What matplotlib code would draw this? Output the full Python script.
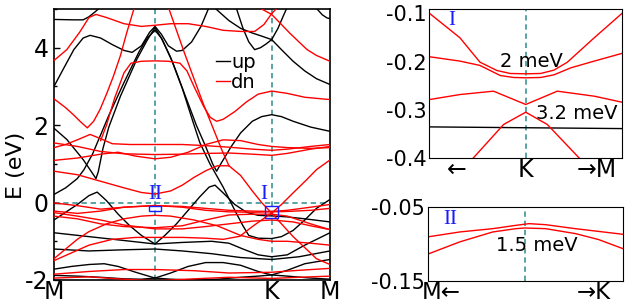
import matplotlib
matplotlib.use("Agg")
import matplotlib.pyplot as plt
from matplotlib.patches import Rectangle

plt.rcParams['font.family'] = ['DejaVu Sans']
plt.rcParams['axes.unicode_minus'] = False

# ---------------- data: high-symmetry points ----------------
k_ticks = [0.0, 1.866, 2.366]
k_labels = ['M', 'K', 'M']
k_gamma = 0.866
k_K = 1.866

# ---------------- spin-up bands (black) ----------------
up1_k = [0, 0.17, 0.25, 0.30, 0.35, 0.40]
up1_E = [4.73, 4.72, 4.72, 4.80, 4.92, 5.05]
up2_k = [0, 0.08, 0.17, 0.25, 0.31, 0.40, 0.50, 0.60, 0.67, 0.75, 0.82, 0.866, 0.92, 0.98, 1.05, 1.10, 1.18, 1.26, 1.33]
up2_E = [3.0, 3.45, 3.95, 4.25, 4.32, 4.25, 4.08, 3.93, 3.88, 4.05, 4.40, 4.55, 4.35, 4.05, 3.91, 3.93, 4.15, 4.55, 5.05]
up3_k = [0, 0.11, 0.25, 0.32, 0.36, 0.38, 0.42, 0.47, 0.57, 0.71, 0.80, 0.866, 0.93, 1.02, 1.12, 1.22, 1.30, 1.36, 1.394, 1.43, 1.52, 1.60, 1.70, 1.78, 1.866, 1.95, 2.05, 2.2, 2.366]
up3_E = [1.92, 1.63, 1.11, 0.80, 0.62, 0.80, 1.40, 1.95, 2.75, 3.70, 4.20, 4.52, 4.20, 3.60, 2.80, 2.00, 1.45, 1.00, 0.81, 1.00, 1.45, 1.80, 2.10, 2.22, 2.27, 2.22, 2.10, 1.95, 1.84]
up4_k = [0, 0.1, 0.2, 0.257, 0.33, 0.40, 0.47, 0.6, 0.73, 0.80, 0.866, 0.92, 1.0, 1.1, 1.19, 1.25, 1.337, 1.45, 1.55, 1.62, 1.67, 1.75, 1.866, 1.95, 2.05, 2.15, 2.25, 2.366]
up4_E = [0.21, 0.38, 0.62, 0.85, 1.25, 1.75, 2.25, 3.1, 3.9, 4.25, 4.45, 4.25, 3.75, 2.95, 2.1, 1.55, 1.0, 0.4, -0.2, -0.6, -0.85, -0.92, -0.93, -0.88, -0.72, -0.45, -0.15, 0.08]
up5_k = [0, 0.1, 0.2, 0.3, 0.37, 0.45, 0.55, 0.65, 0.75, 0.866, 0.95, 1.05, 1.15, 1.25, 1.33, 1.38, 1.45, 1.55, 1.65, 1.75, 1.866, 2.0, 2.15, 2.366]
up5_E = [-0.45, -0.25, -0.05, 0.18, 0.27, 0.05, -0.30, -0.60, -0.85, -1.07, -0.85, -0.55, -0.20, 0.15, 0.40, 0.45, 0.25, -0.05, -0.25, -0.33, -0.345, -0.37, -0.42, -0.50]
up6_k = [0, 0.3, 0.6, 0.866, 1.1, 1.35, 1.5, 1.62, 1.75, 1.866, 2.0, 2.15, 2.366]
up6_E = [-0.78, -0.88, -0.98, -1.07, -1.03, -1.00, -1.05, -1.20, -1.35, -1.40, -1.35, -1.10, -0.78]
up7_k = [0, 0.3, 0.6, 0.866, 1.1, 1.35, 1.6, 1.866, 2.1, 2.366]
up7_E = [-1.20, -1.25, -1.22, -1.20, -1.25, -1.32, -1.42, -1.47, -1.40, -1.25]
up8_k = [0, 0.15, 0.3, 0.43, 0.55, 0.7, 0.866, 1.0, 1.15, 1.3, 1.45, 1.6, 1.75, 1.866, 2.0, 2.15, 2.366]
up8_E = [-1.72, -1.65, -1.60, -1.58, -1.65, -1.80, -1.95, -1.82, -1.65, -1.55, -1.55, -1.62, -1.78, -1.87, -1.75, -1.58, -1.47]
up9_k = [0, 0.2, 0.4, 0.6, 0.75, 0.866, 1.0, 1.2, 1.4, 1.6, 1.75, 1.866, 2.0, 2.2, 2.366]
up9_E = [-1.88, -1.90, -1.93, -1.97, -1.98, -1.95, -1.98, -2.0, -1.98, -1.93, -1.90, -1.87, -1.90, -1.95, -1.98]
up10_k = [1.37, 1.5, 1.6, 1.7, 1.78, 1.866, 1.95, 2.05, 2.15, 2.25, 2.366]
up10_E = [5.05, 4.70, 4.50, 4.38, 4.30, 4.21, 3.95, 3.65, 3.40, 3.20, 3.05]
up11_k = [1.56, 1.62, 1.67, 1.72, 1.77, 1.82, 1.866, 1.92, 1.97, 2.0]
up11_E = [5.05, 4.50, 4.15, 3.95, 4.00, 4.10, 4.21, 4.50, 4.85, 5.05]
up12_k = [2.24, 2.3, 2.34, 2.366]
up12_E = [5.05, 4.85, 4.77, 4.75]

# ---------------- spin-down bands (red) ----------------
dn1_k = [0, 0.11, 0.22, 0.30, 0.36, 0.45, 0.6, 0.75, 0.866, 1.0, 1.15, 1.3, 1.45, 1.6, 1.72, 1.8, 1.866, 1.92]
dn1_E = [3.67, 3.95, 4.40, 4.78, 4.86, 4.78, 4.62, 4.55, 4.58, 4.62, 4.62, 4.55, 4.45, 4.42, 4.42, 4.60, 4.88, 5.05]
dn2_k = [1.75, 1.866, 1.95, 2.02, 2.1, 2.17, 2.25, 2.366]
dn2_E = [5.05, 4.86, 4.60, 4.38, 4.15, 3.95, 3.80, 3.65]
dn3_k = [0.40, 0.45, 0.52, 0.6, 0.66, 0.75, 0.866, 0.98, 1.08, 1.14, 1.2, 1.28, 1.34, 1.394, 1.45, 1.55, 1.65, 1.75, 1.866, 2.0, 2.15, 2.366]
dn3_E = [1.60, 2.00, 2.70, 3.35, 3.60, 3.65, 3.66, 3.65, 3.60, 3.40, 3.00, 2.50, 2.20, 2.10, 2.15, 2.35, 2.60, 2.80, 2.88, 2.82, 2.72, 2.66]
dn4_k = [0, 0.1, 0.2, 0.31, 0.4, 0.5, 0.65, 0.866, 1.1, 1.3, 1.5, 1.7, 1.866, 2.0, 2.2, 2.366]
dn4_E = [1.42, 1.50, 1.62, 1.76, 1.65, 1.52, 1.50, 1.50, 1.50, 1.47, 1.43, 1.38, 1.35, 1.38, 1.45, 1.50]
dn5_k = [0, 0.2, 0.4, 0.6, 0.866, 1.1, 1.3, 1.5, 1.7, 1.866, 2.0, 2.2, 2.366]
dn5_E = [1.54, 1.45, 1.32, 1.26, 1.24, 1.25, 1.27, 1.28, 1.25, 1.22, 1.27, 1.38, 1.45]
dn6_k = [0, 0.2, 0.4, 0.55, 0.7, 0.866, 1.0, 1.15, 1.3, 1.45, 1.6, 1.75, 1.866, 2.0, 2.2, 2.366]
dn6_E = [1.09, 1.15, 1.25, 1.30, 1.20, 1.13, 1.17, 1.30, 1.50, 1.62, 1.60, 1.50, 1.45, 1.42, 1.40, 1.42]
dn7_k = [0, 0.1, 0.166, 0.23, 0.286, 0.34, 0.394, 0.45, 0.509, 0.57, 0.623, 0.66, 0.69]
dn7_E = [2.68, 2.45, 2.27, 2.08, 1.93, 2.10, 2.40, 2.80, 3.26, 3.80, 4.38, 4.75, 5.05]
dn8_k = [0.98, 1.05, 1.12, 1.2, 1.28, 1.36, 1.44, 1.5]
dn8_E = [5.05, 4.45, 3.85, 3.20, 2.55, 1.95, 1.35, 0.95]
dn9_k = [0, 0.2, 0.4, 0.6, 0.75, 0.866, 1.0, 1.1, 1.2, 1.3, 1.4, 1.5, 1.6, 1.7, 1.78, 1.866, 1.95, 2.05, 2.166, 2.25, 2.366]
dn9_E = [0.81, 0.72, 0.55, 0.38, 0.26, 0.22, 0.30, 0.45, 0.65, 0.82, 0.95, 0.95, 0.70, 0.30, 0.0, -0.27, -0.55, -0.88, -1.21, -1.45, -1.60]
dn10_k = [0, 0.15, 0.3, 0.5, 0.7, 0.866, 1.1, 1.3, 1.45, 1.594, 1.7, 1.78, 1.866, 1.95, 2.05, 2.166, 2.25, 2.366]
dn10_E = [-1.50, -1.30, -1.10, -0.95, -0.90, -0.90, -0.90, -0.92, -0.95, -0.87, -0.62, -0.45, -0.27, -0.05, 0.25, 0.59, 0.85, 1.10]
dn11_k = [0, 0.2, 0.4, 0.6, 0.866, 1.1, 1.3, 1.5, 1.7, 1.866, 2.0, 2.2, 2.366]
dn11_E = [-0.01, -0.08, -0.17, -0.12, -0.08, -0.10, -0.15, -0.20, -0.22, -0.23, -0.20, -0.12, -0.05]
dn12_k = [0, 0.2, 0.4, 0.6, 0.866, 1.1, 1.3, 1.5, 1.7, 1.866, 2.0, 2.2, 2.366]
dn12_E = [-0.22, -0.28, -0.22, -0.12, -0.075, -0.12, -0.20, -0.24, -0.25, -0.24, -0.23, -0.20, -0.15]
dn13_k = [0, 0.2, 0.4, 0.6, 0.866, 1.1, 1.3, 1.5, 1.7, 1.866, 2.0, 2.2, 2.366]
dn13_E = [-0.35, -0.42, -0.55, -0.62, -0.65, -0.60, -0.45, -0.32, -0.30, -0.30, -0.35, -0.55, -0.70]
dn14_k = [0, 0.2, 0.4, 0.6, 0.866, 1.1, 1.3, 1.5, 1.7, 1.866, 2.05, 2.2, 2.366]
dn14_E = [-0.26, -0.35, -0.45, -0.58, -0.68, -0.68, -0.62, -0.55, -0.48, -0.45, -0.50, -0.60, -0.70]
dn15_k = [0, 0.1, 0.2, 0.3, 0.45, 0.6, 0.75, 0.866, 1.0, 1.2, 1.4, 1.6, 1.75, 1.866, 2.0, 2.2, 2.366]
dn15_E = [-1.45, -1.20, -0.95, -0.75, -0.55, -0.42, -0.35, -0.33, -0.35, -0.45, -0.60, -0.85, -0.95, -1.00, -1.00, -1.05, -1.10]
dn16_k = [0, 0.3, 0.6, 0.866, 1.2, 1.5, 1.866, 2.1, 2.366]
dn16_E = [-1.85, -1.78, -1.73, -1.73, -1.76, -1.82, -1.80, -1.75, -1.70]
dn17_k = [0, 0.3, 0.6, 0.866, 1.2, 1.5, 1.866, 2.1, 2.366]
dn17_E = [-1.95, -1.92, -1.98, -2.02, -1.97, -1.93, -1.96, -1.93, -1.90]

up_bands = [(up1_k, up1_E), (up2_k, up2_E), (up3_k, up3_E), (up4_k, up4_E), (up5_k, up5_E),
            (up6_k, up6_E), (up7_k, up7_E), (up8_k, up8_E), (up9_k, up9_E), (up10_k, up10_E),
            (up11_k, up11_E), (up12_k, up12_E)]
dn_bands = [(dn1_k, dn1_E), (dn2_k, dn2_E), (dn3_k, dn3_E), (dn4_k, dn4_E), (dn5_k, dn5_E),
            (dn6_k, dn6_E), (dn7_k, dn7_E), (dn8_k, dn8_E), (dn9_k, dn9_E), (dn10_k, dn10_E),
            (dn11_k, dn11_E), (dn12_k, dn12_E), (dn13_k, dn13_E), (dn14_k, dn14_E), (dn15_k, dn15_E),
            (dn16_k, dn16_E), (dn17_k, dn17_E)]

# ---------------- zoom I (around K) ----------------
zI_a_u = [-1.0, -0.684, -0.476, -0.30, -0.161, 0.0, 0.154, 0.293, 0.433, 0.712, 1.0]
zI_a_E = [-0.100, -0.1506, -0.2012, -0.2185, -0.2247, -0.2254, -0.2247, -0.2178, -0.2012, -0.1506, -0.100]
zI_b_u = [-1.0, -0.684, -0.476, -0.265, -0.126, 0.0, 0.154, 0.293, 0.468, 0.712, 1.0]
zI_b_E = [-0.190, -0.199, -0.208, -0.2289, -0.233, -0.2337, -0.233, -0.2275, -0.213, -0.199, -0.183]
zI_c_u = [-1.0, -0.684, -0.335, 0.0, 0.328, 0.712, 1.0]
zI_c_E = [-0.2788, -0.2684, -0.2614, -0.289, -0.2614, -0.2718, -0.2843]
zI_d_u = [-0.545, -0.23, 0.0, 0.224, 0.555]
zI_d_E = [-0.400, -0.3305, -0.305, -0.3305, -0.400]
zI_e_u = [-1.0, 1.0]
zI_e_E = [-0.3355, -0.339]

# ---------------- zoom II (around Gamma) ----------------
zII_a_u = [-1.0, -0.671, -0.332, -0.095, 0.04, 0.21, 0.515, 1.0]
zII_a_E = [-0.0905, -0.0838, -0.0793, -0.0748, -0.0725, -0.0739, -0.0793, -0.0869]
zII_b_u = [-1.0, -0.671, -0.332, -0.095, 0.0, 0.21, 0.515, 0.753, 1.0]
zII_b_E = [-0.114, -0.0973, -0.0838, -0.0793, -0.0784, -0.0793, -0.086, -0.0941, -0.1063]

dash_col = '#2e8b8b'
dash_ls = (0, (3.5, 2.5))
blue = '#1a1aff'

fig = plt.figure(figsize=(6.27, 3.05), dpi=100)

# ---------------- main panel ----------------
ax = fig.add_axes([0.0861, 0.082, 0.4402, 0.8885])
ax.axvline(k_gamma, color=dash_col, ls=dash_ls, lw=1.1, zorder=1)
ax.axvline(k_K, color=dash_col, ls=dash_ls, lw=1.1, zorder=1)
ax.axhline(0, color=dash_col, ls=dash_ls, lw=1.1, zorder=1)
for i, (k, E) in enumerate(up_bands):
    ax.plot(k, E, color='black', lw=1.0, zorder=2, label='up' if i == 0 else None)
for i, (k, E) in enumerate(dn_bands):
    ax.plot(k, E, color='red', lw=1.0, zorder=3, label='dn' if i == 0 else None)

ax.add_patch(Rectangle((0.814, -0.21), 0.106, 0.13, fill=False, ec=blue, lw=1.0, zorder=5))
ax.add_patch(Rectangle((1.813, -0.40), 0.106, 0.30, fill=False, ec=blue, lw=1.0, zorder=5))
ax.text(0.866, 0.2, 'II', color=blue, family='Liberation Serif', fontsize=15, ha='center', va='center', zorder=6)
ax.text(1.795, 0.2, 'I', color=blue, family='Liberation Serif', fontsize=15, ha='center', va='center', zorder=6)

ax.set_xlim(0, 2.366)
ax.set_ylim(-2, 5)
ax.set_xticks(k_ticks)
ax.set_xticklabels(k_labels)
ax.set_yticks([-2, 0, 2, 4])
ax.set_yticks([-1, 1, 3, 5], minor=True)
ax.tick_params(axis='y', which='major', direction='in', length=4, width=1, labelsize=17, pad=4)
ax.tick_params(axis='y', which='minor', direction='in', length=2.5, width=1)
ax.tick_params(axis='x', direction='in', length=0, labelsize=17, pad=0)
ax.set_ylabel('E (eV)', fontsize=16)
ax.yaxis.set_label_coords(-0.1, 0.424)
for s in ax.spines.values():
    s.set_linewidth(1.2)
leg = ax.legend(loc='upper left', bbox_to_anchor=(0.55, 0.875), frameon=False, fontsize=14,
                handlelength=0.75, handletextpad=0.05, labelspacing=0.05, borderpad=0)

# ---------------- inset I ----------------
a1 = fig.add_axes([0.685, 0.482, 0.307, 0.490])
a1.axvline(0, color=dash_col, ls=dash_ls, lw=1.1)
a1.plot(zI_e_u, zI_e_E, color='black', lw=1.0)
for u, E in [(zI_a_u, zI_a_E), (zI_b_u, zI_b_E), (zI_c_u, zI_c_E), (zI_d_u, zI_d_E)]:
    a1.plot(u, E, color='red', lw=1.0)
a1.set_xlim(-1, 1)
a1.set_ylim(-0.4, -0.09)
a1.set_xticks([])
a1.set_yticks([-0.1, -0.2, -0.3, -0.4])
a1.set_yticklabels(['-0.1', '-0.2', '-0.3', '-0.4'])
a1.tick_params(axis='y', direction='in', length=0, labelsize=15, pad=2)
a1.text(0.115, 0.92, 'I', transform=a1.transAxes, color=blue, family='Liberation Serif', fontsize=15, ha='center', va='center')
a1.text(0.531, 0.644, '2 meV', transform=a1.transAxes, fontsize=14, ha='center', va='center')
a1.text(0.765, 0.299, '3.2 meV', transform=a1.transAxes, fontsize=14, ha='center', va='center')
a1.text(0.14, -0.08, '\u2190', transform=a1.transAxes, fontsize=17, ha='center', va='center')
a1.text(0.496, -0.08, 'K', transform=a1.transAxes, fontsize=17, ha='center', va='center')
a1.text(0.765, -0.08, '\u2192M', transform=a1.transAxes, fontsize=17, ha='left', va='center')

# ---------------- inset II ----------------
a2 = fig.add_axes([0.682, 0.0797, 0.311, 0.2413])
a2.axvline(0, color=dash_col, ls=dash_ls, lw=1.1)
for u, E in [(zII_a_u, zII_a_E), (zII_b_u, zII_b_E)]:
    a2.plot(u, E, color='red', lw=1.0)
a2.set_xlim(-1, 1)
a2.set_ylim(-0.15, -0.05)
a2.set_xticks([])
a2.set_yticks([-0.05, -0.15])
a2.set_yticklabels(['-0.05', '-0.15'])
a2.tick_params(axis='y', direction='in', length=0, labelsize=15, pad=2)
a2.text(0.114, 0.83, 'II', transform=a2.transAxes, color=blue, family='Liberation Serif', fontsize=15, ha='center', va='center')
a2.text(0.559, 0.484, '1.5 meV', transform=a2.transAxes, fontsize=14, ha='center', va='center')
a2.text(-0.03, -0.155, 'M\u2190', transform=a2.transAxes, fontsize=16.5, ha='left', va='center')
a2.text(0.765, -0.155, '\u2192K', transform=a2.transAxes, fontsize=16.5, ha='left', va='center')

fig.savefig('out.png', dpi=100)
